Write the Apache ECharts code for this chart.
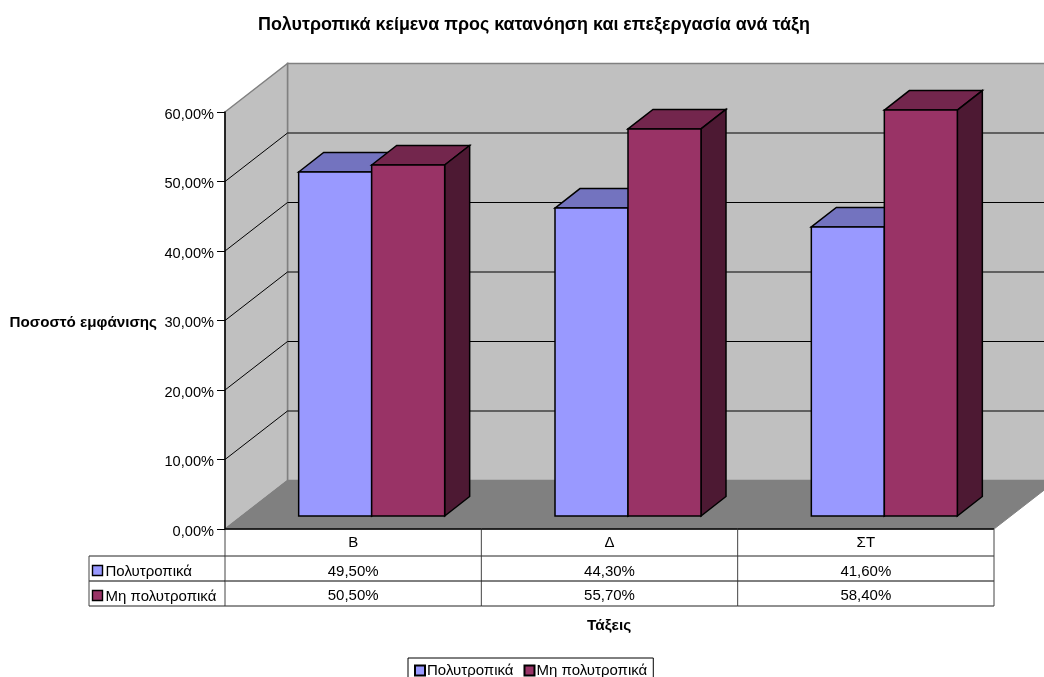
<!DOCTYPE html>
<html>
<head>
<meta charset="utf-8">
<style>html,body{margin:0;padding:0;background:#fff}#chart{width:1044px;height:677px}</style>
<script src="https://cdn.jsdelivr.net/npm/echarts@6/dist/echarts.min.js"></script>
</head>
<body>
<div id="chart"></div>
<script>
const titleText = 'Πολυτροπικά κείμενα προς κατανόηση και επεξεργασία ανά τάξη';
const yAxisTitle = 'Ποσοστό εμφάνισης';
const xAxisTitle = 'Τάξεις';
const categories = ['Β', 'Δ', 'ΣΤ'];
const seriesNames = ['Πολυτροπικά', 'Μη πολυτροπικά'];
const polytropika = [49.5, 44.3, 41.6];
const miPolytropika = [50.5, 55.7, 58.4];
const yTicks = [0, 10, 20, 30, 40, 50, 60];

const FONT = '"Liberation Sans", Arial, sans-serif';
const palette = [
  { front: '#9999FF', top: '#7373BF', side: '#4D4D80' },
  { front: '#993366', top: '#73264D', side: '#4D1933' }
];
// Oblique projection of the box: wall depth and bar depth in pixels.
const WALL_DX = 62.5, WALL_DY = 48.5;
const BAR_DX = 25, BAR_DY = 19.5;
const BAR_LIFT = 13, BAR_SHIFT = 18.5, BAR_W = 73;
const ROW_H = [27, 25, 25];
const HEAD_X = 89;

const pct = v => v.toFixed(2).replace('.', ',') + '%';

function poly(points, fill, stroke, width) {
  return { type: 'polygon', shape: { points },
    style: { fill, stroke: stroke || null, lineWidth: width || 0, lineJoin: 'miter' } };
}
function seg(x1, y1, x2, y2, color, width) {
  return { type: 'line', shape: { x1, y1, x2, y2 },
    style: { stroke: color, lineWidth: width || 1, fill: null } };
}
function label(x, y, text, align) {
  return { type: 'text', x, y,
    style: { text, fill: '#000', font: '15px ' + FONT, textAlign: align || 'center', textVerticalAlign: 'middle' } };
}

// Back wall, side wall, floor and the gridlines that run across them.
function renderRoom(params, api) {
  const c = params.coordSys;
  const L = c.x, R = c.x + c.width, T = c.y, B = c.y + c.height;
  const edge = '#808080';
  const kids = [
    poly([[L + WALL_DX, T - WALL_DY], [R + WALL_DX, T - WALL_DY], [R + WALL_DX, B - WALL_DY], [L + WALL_DX, B - WALL_DY]], '#C0C0C0', edge, 1.5),
    poly([[L, T], [L + WALL_DX, T - WALL_DY], [L + WALL_DX, B - WALL_DY], [L, B]], '#C0C0C0', edge, 1.5),
    poly([[L, B], [L + WALL_DX, B - WALL_DY], [R + WALL_DX, B - WALL_DY], [R, B]], '#808080', edge, 1)
  ];
  yTicks.slice(1, -1).forEach(v => {
    const y = api.coord([0, v])[1];
    kids.push(seg(L, y, L + WALL_DX, y - WALL_DY, '#000', 1));
    kids.push(seg(L + WALL_DX, y - WALL_DY, R + WALL_DX, y - WALL_DY, '#000', 1));
  });
  return { type: 'group', children: kids };
}

// One column per data item, drawn as a front face, a top face and a right face.
function barRenderer(seriesIndex) {
  const colors = palette[seriesIndex];
  return function (params, api) {
    const idx = api.value(0);
    const top = api.coord([idx, api.value(1)]);
    const base = api.coord([idx, 0]);
    const x0 = base[0] + BAR_SHIFT + (seriesIndex - 1) * BAR_W;
    const x1 = x0 + BAR_W;
    const yb = base[1] - BAR_LIFT;
    const yt = top[1] - BAR_LIFT;
    const line = { s: '#000', w: 1.5 };
    return { type: 'group', children: [
      poly([[x0, yt], [x0 + BAR_DX, yt - BAR_DY], [x1 + BAR_DX, yt - BAR_DY], [x1, yt]], colors.top, line.s, line.w),
      poly([[x1, yt], [x1 + BAR_DX, yt - BAR_DY], [x1 + BAR_DX, yb - BAR_DY], [x1, yb]], colors.side, line.s, line.w),
      poly([[x0, yt], [x1, yt], [x1, yb], [x0, yb]], colors.front, line.s, line.w)
    ] };
  };
}

// Data table under the plot: one column per category plus the row headers.
function renderTable(params, api) {
  const idx = api.value(0);
  const pos = api.coord([idx, 0]);
  const band = api.size([1, 0])[0];
  const L = pos[0] - band / 2, R = pos[0] + band / 2, y0 = pos[1];
  const y1 = y0 + ROW_H[0], y2 = y1 + ROW_H[1], y3 = y2 + ROW_H[2];
  const kids = [
    seg(L, y0, R, y0, '#000', 1.5),
    seg(L, y1, R, y1, '#222', 1),
    seg(L, y2, R, y2, '#000', 1),
    seg(L, y3, R, y3, '#222', 1),
    seg(R, y0, R, y3, '#444', 1),
    label(pos[0], (y0 + y1) / 2 + 0.5, categories[idx]),
    label(pos[0], (y1 + y2) / 2 + 3, pct(polytropika[idx])),
    label(pos[0], (y2 + y3) / 2 + 2, pct(miPolytropika[idx]))
  ];
  if (idx === 0) {
    kids.push(seg(L, y0, L, y3, '#444', 1));
    kids.push(seg(HEAD_X, y1, L, y1, '#222', 1));
    kids.push(seg(HEAD_X, y2, L, y2, '#000', 1));
    kids.push(seg(HEAD_X, y3, L, y3, '#222', 1));
    kids.push(seg(HEAD_X, y1, HEAD_X, y3, '#444', 1));
    [[y1, y2], [y2, y3]].forEach((r, i) => {
      const mid = (r[0] + r[1]) / 2 + 2;
      kids.push({ type: 'rect', shape: { x: HEAD_X + 3.5, y: mid - 5, width: 10, height: 10 },
        style: { fill: palette[i].front, stroke: '#000', lineWidth: 1.4 } });
      kids.push(label(HEAD_X + 16.5, mid + 1.5, seriesNames[i], 'left'));
    });
  }
  return { type: 'group', children: kids };
}

const chart = echarts.init(document.getElementById('chart'), null, { renderer: 'canvas' });
chart.setOption({
  animation: false,
  backgroundColor: '#fff',
  textStyle: { fontFamily: FONT },
  title: {
    text: titleText, left: 258, top: 16, padding: 0,
    textStyle: { fontFamily: FONT, fontSize: 17.9, fontWeight: 'bold', color: '#000' }
  },
  legend: {
    data: seriesNames,
    left: 408, top: 658, padding: [5, 6, 4, 6], itemGap: 10,
    itemWidth: 10, itemHeight: 10, selectedMode: false, icon: 'rect',
    borderColor: '#000', borderWidth: 1, backgroundColor: '#fff',
    textStyle: { fontFamily: FONT, fontSize: 15, color: '#000', padding: [4, 0, 0, -3] }
  },
  grid: { left: 225, right: 50, top: 112, bottom: 148, containLabel: false },
  xAxis: {
    type: 'category', data: categories,
    axisLine: { show: false }, axisTick: { show: false }, axisLabel: { show: false }
  },
  yAxis: {
    type: 'value', min: 0, max: 60, interval: 10, z: 10,
    name: yAxisTitle, nameLocation: 'middle', nameGap: 68, nameRotate: 0,
    nameTextStyle: { fontFamily: FONT, fontSize: 15.2, fontWeight: 'bold', color: '#000', verticalAlign: 'top', lineHeight: 4 },
    axisLine: { show: true, lineStyle: { color: '#000', width: 1.5 } },
    axisTick: { show: true, length: 8, lineStyle: { color: '#000', width: 1 } },
    axisLabel: { margin: 11, color: '#000', fontSize: 14.6, fontFamily: FONT, verticalAlign: 'top', lineHeight: 5, formatter: v => pct(v) },
    splitLine: { show: false }
  },
  graphic: [{
    type: 'text', left: 587, top: 618,
    style: { text: xAxisTitle, fill: '#000', font: 'bold 15.4px ' + FONT }
  }],
  series: [
    { name: 'room', type: 'custom', silent: true, z: 1, clip: false, renderItem: renderRoom, data: [[0]], encode: { x: 0 } },
    { name: seriesNames[0], type: 'custom', z: 3, clip: false, renderItem: barRenderer(0),
      itemStyle: { color: palette[0].front, borderColor: '#000', borderWidth: 1.4 },
      data: polytropika.map((v, i) => [i, v]), encode: { x: 0, y: 1 } },
    { name: seriesNames[1], type: 'custom', z: 4, clip: false, renderItem: barRenderer(1),
      itemStyle: { color: palette[1].front, borderColor: '#000', borderWidth: 1.4 },
      data: miPolytropika.map((v, i) => [i, v]), encode: { x: 0, y: 1 } },
    { name: 'table', type: 'custom', silent: true, z: 5, clip: false, renderItem: renderTable,
      data: categories.map((c, i) => [i]), encode: { x: 0 } }
  ]
});
</script>
</body>
</html>
